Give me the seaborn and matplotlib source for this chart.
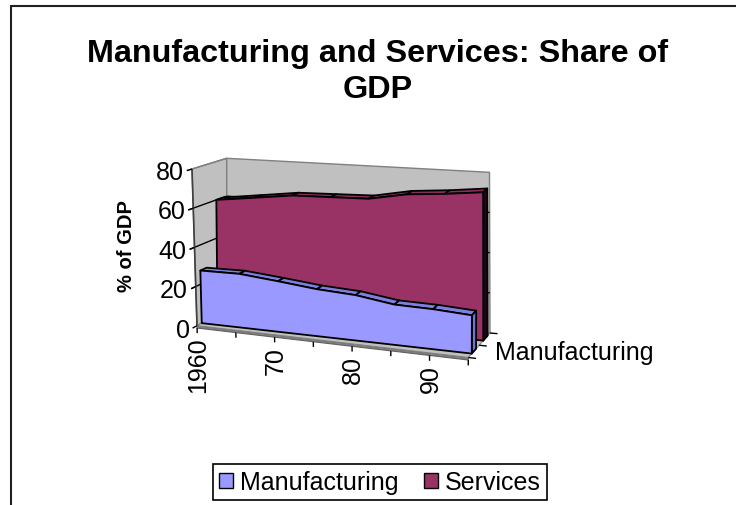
import matplotlib
matplotlib.use("Agg")
import matplotlib.pyplot as plt
from matplotlib.patches import Patch, Polygon
import seaborn as sns

# ── data ──────────────────────────────────────────────────────────────────────
years = ["1960", "65", "70", "75", "80", "85", "90", "95"]
manufacturing = [27.0, 27.3, 25.5, 23.5, 22.5, 19.8, 19.5, 18.5]
services = [60.0, 62.5, 65.0, 65.5, 66.0, 69.5, 71.0, 73.0]
series_names = ["Manufacturing", "Services"]
value_ticks = [0, 20, 40, 60, 80]
VMAX = 80

sns.set_theme(style="white", rc={"text.color": "black"})
plt.rcParams["font.family"] = ["Liberation Sans", "DejaVu Sans"]
colors = sns.color_palette(["#9999ff", "#993366"])

W, H = 736, 506
fig = plt.figure(figsize=(W / 100, H / 100), dpi=100)
ax = fig.add_axes([0, 0, 1, 1])
ax.set_xlim(0, W)
ax.set_ylim(H, 0)
ax.axis("off")

# corners of the 3d plot box on the page: (right, back, top) -> pixel
CORNERS = {
    (0, 0, 0): (197.0, 326.7), (1, 0, 0): (468.3, 358.5),
    (0, 0, 1): (192.0, 170.0), (1, 0, 1): (469.0, 192.0),
    (0, 1, 0): (226.7, 310.7), (1, 1, 0): (490.0, 334.0),
    (0, 1, 1): (226.7, 159.3), (1, 1, 1): (489.5, 173.3),
}
NCAT = len(years)


def proj(c, d, v):
    u, w = c / (NCAT - 1), v / VMAX
    x = y = 0.0
    for (i, j, k), (px, py) in CORNERS.items():
        wt = (u if i else 1 - u) * (d if j else 1 - d) * (w if k else 1 - w)
        x += wt * px
        y += wt * py
    return x, y


def face(pts, fc, ec="black", lw=1.3, z=1):
    ax.add_patch(Polygon([proj(*p) for p in pts], closed=True, facecolor=fc,
                         edgecolor=ec, linewidth=lw, joinstyle="round", zorder=z))


def seg(p0, p1, color="black", lw=1.0, z=2):
    (x0, y0), (x1, y1) = proj(*p0), proj(*p1)
    ax.plot([x0, x1], [y0, y1], color=color, lw=lw, zorder=z, solid_capstyle="butt")


def slab(vals, d0, d1, front, top, side, z):
    n = len(vals)
    for i in range(n - 1):
        face([(i, d0, vals[i]), (i + 1, d0, vals[i + 1]),
              (i + 1, d1, vals[i + 1]), (i, d1, vals[i])], top, z=z)
    face([(n - 1, d0, 0), (n - 1, d1, 0), (n - 1, d1, vals[-1]), (n - 1, d0, vals[-1])],
         side, z=z)
    pts = [(i, d0, vals[i]) for i in range(n)] + [(n - 1, d0, 0), (0, d0, 0)]
    face(pts, front, z=z + 0.1)


last = NCAT - 1
wall = "#c0c0c0"

# walls and floor
face([(0, 0, 0), (0, 1, 0), (0, 1, VMAX), (0, 0, VMAX)], wall, ec="#808080", lw=1, z=0)
face([(0, 1, 0), (last, 1, 0), (last, 1, VMAX), (0, 1, VMAX)], wall, ec="#808080", lw=1, z=0)
for v in value_ticks[1:-1]:
    seg((0, -0.15, v), (0, 1, v), lw=1, z=0.5)
    seg((0, 1, v), (last, 1, v), lw=1, z=0.5)
face([(0, 0, -1.2), (last, 0, -1.2), (last, 0, 0), (0, 0, 0)], "#808080", ec="#606060", lw=0.8, z=0.6)
face([(0, 0, 0), (last, 0, 0), (last, 1, 0), (0, 1, 0)], wall, ec="#808080", lw=0.8, z=0.6)

# series slabs, back one first
slab(services, 0.69, 0.89, colors[1], "#8a2d5c", "#1e0812", z=1)
slab(manufacturing, 0.16, 0.36, colors[0], "#7f7fe0", "#7474cc", z=2)

# value axis
seg((0, 0, 0), (0, 0, VMAX), color="#404040", lw=1.2, z=3)
seg((0, -0.15, VMAX), (0, 1, VMAX), color="#808080", lw=1, z=0.5)
for v in value_ticks:
    seg((0, -0.15, v), (0, 0, v), lw=1, z=3)
    x0, y0 = proj(0, -0.15, v)
    ax.text(x0 - 3, y0 + 1.5, str(v), ha="right", va="center", fontsize=18, zorder=4)

# category axis
for c in range(NCAT):
    seg((c, 0, -1.2), (c, 0, -3.8), lw=1, z=3)
    if c % 2 == 0:
        x0, y0 = proj(c, 0, -5.5)
        ax.text(x0 + 1, y0, years[c], rotation=90, ha="center", va="top", fontsize=18)

# series (depth) axis
for d in [0, 0.5, 1]:
    seg((last, d, 0), (last + 0.2, d, 0), lw=1, z=3)
x0, y0 = proj(last, 0.25, 0)
ax.text(x0 + 21, y0 + 1, series_names[0], ha="left", va="center", fontsize=18)

ax.text(126, 246, "% of GDP", rotation=90, ha="center", va="center",
        fontsize=14.5, fontweight="bold")
ax.text(378, 72, "Manufacturing and Services: Share of\nGDP", ha="center", va="center",
        fontsize=23.3, fontweight="bold", linespacing=1.25)

# chart frame
ax.plot([11, 11], [6.5, H], color="#202020", lw=1.5)
ax.plot([11, W], [6.5, 6.5], color="#202020", lw=1.5)

handles = [Patch(facecolor=colors[i], edgecolor="black", label=n)
           for i, n in enumerate(series_names)]
leg = fig.legend(handles=handles, loc="center", bbox_to_anchor=(380 / W, 1 - 483 / H),
                 ncol=2, fontsize=18, frameon=True, fancybox=False, edgecolor="black",
                 framealpha=1, handlelength=0.55, handleheight=0.55, handletextpad=0.3,
                 columnspacing=1.0, borderpad=0.25, borderaxespad=0)
leg.get_frame().set_linewidth(1.2)

fig.savefig("out.png", dpi=100)
